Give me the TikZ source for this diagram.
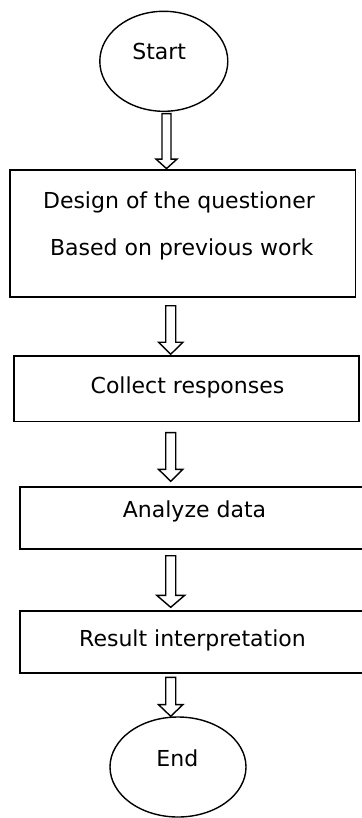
\documentclass[tikz,border=0pt]{standalone}
\usepackage{fontspec}
\setmainfont{DejaVu Sans}
\usetikzlibrary{shapes.geometric,calc}

\tikzset{
  outline/.style={draw=black, line width=1.4pt},
  termshape/.style={outline, ellipse, inner sep=0pt},
  stepbox/.style={outline, rectangle, inner sep=0pt},
  lbl/.style={inner sep=0pt, text height=16pt, text depth=0pt,
              font=\fontsize{22}{26}\selectfont},
  hollow/.style={draw=black, line width=1.4pt, fill=white, line join=miter},
}

% Hollow block arrow: #1 top of shaft, #2 tip, #3 shaft half-width,
% #4 head half-width, #5 head length
\newcommand\hollowarrow[5]{%
  \draw[hollow] let \p1=#1, \p2=#2 in
    (\x1-#3,\y1) -- (\x1-#3,\y2+#5) -- (\x1-#4,\y2+#5) -- (\x1,\y2)
    -- (\x1+#4,\y2+#5) -- (\x1+#3,\y2+#5) -- (\x1+#3,\y1) -- cycle;}

\begin{document}
\begin{tikzpicture}[x=1pt,y=-1pt]
\fill[white] (0,0) rectangle (361,818);
\useasboundingbox (0,0) rectangle (361,818);

% shapes
\node[termshape, minimum width=128pt, minimum height=100pt] (start) at (163.8,61.3) {};
\node[stepbox, minimum width=345.5pt, minimum height=127pt] (design) at (182.75,233.5) {};
\node[stepbox, minimum width=345pt, minimum height=65.5pt] (collect) at (186.5,388.7) {};
\node[stepbox, minimum width=343pt, minimum height=62pt] (analyze) at (191.5,518) {};
\node[stepbox, minimum width=343pt, minimum height=62pt] (result) at (191.5,642) {};
\node[termshape, minimum width=136pt, minimum height=100pt] (end) at (178,767) {};

% texts
\node[lbl] (startText) at (159.2,51.7) {Start};
\node[lbl] (designText) at (179,200) {Design of the questioner};
\node[lbl] (basedText) at (181.7,247) {Based on previous work};
\node[lbl] (collectText) at (187.5,385) {Collect responses};
\node[lbl] (analyzeText) at (194.5,509.5) {Analyze data};
\node[lbl] (resultText) at (192.5,638) {Result interpretation};
\node[lbl] (endText) at (177.3,758.7) {End};

% vertical axes of the arrows
\coordinate (axisA) at (166.5,0);
\coordinate (axisB) at (170.7,0);

\coordinate (a1t) at ($(axisA |- start.south)+(0,1.7)$);
\coordinate (a1e) at ($(axisA |- design.north)+(0,-0.7)$);
\coordinate (a2t) at ($(axisB |- design.south)+(0,8)$);
\coordinate (a2e) at ($(axisB |- collect.north)+(0,-1)$);
\coordinate (a3t) at ($(axisB |- collect.south)+(0,10.5)$);
\coordinate (a3e) at ($(axisB |- analyze.north)+(0,-5)$);
\coordinate (a4t) at ($(axisB |- analyze.south)+(0,6)$);
\coordinate (a4e) at ($(axisB |- result.north)+(0,-3)$);
\coordinate (a5t) at ($(axisB |- result.south)+(0,3.7)$);
\coordinate (a5e) at (axisB |- end.north);

% connectors
\hollowarrow{(a1t)}{(a1e)}{4.5pt}{10.5pt}{9.5pt}
\hollowarrow{(a2t)}{(a2e)}{5pt}{12.2pt}{12pt}
\hollowarrow{(a3t)}{(a3e)}{5pt}{12.2pt}{12pt}
\hollowarrow{(a4t)}{(a4e)}{5pt}{14pt}{12pt}
\hollowarrow{(a5t)}{(a5e)}{5pt}{12.2pt}{11.7pt}
\end{tikzpicture}
\end{document}
